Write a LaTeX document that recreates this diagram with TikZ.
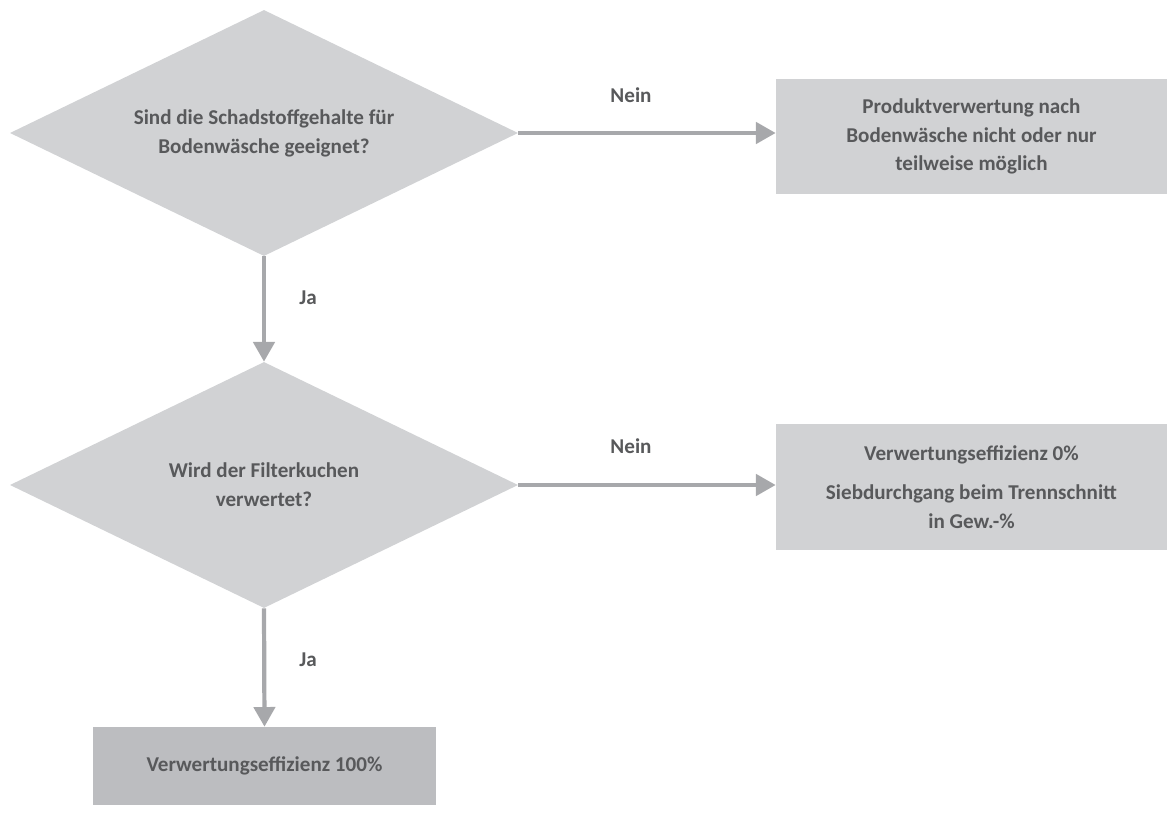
\documentclass[tikz,border=0pt]{standalone}
\usepackage{fontspec}
\setmainfont{Carlito}
\usetikzlibrary{arrows.meta,shapes.geometric}
\definecolor{shapegray}{HTML}{D1D2D4}
\definecolor{endgray}{HTML}{BCBDC0}
\definecolor{arrowgray}{HTML}{A7A8AB}
\definecolor{textgray}{HTML}{58595B}
\tikzset{
	txt/.style={font=\fontsize{15}{20.5}\selectfont\bfseries, text=textgray, align=center},
	question/.style={txt, diamond, shape aspect=2, fill=shapegray, inner sep=0pt, minimum width=12.7cm, minimum height=6.15cm},
	result/.style={txt, rectangle, fill=shapegray, inner sep=0pt, minimum width=9.775cm},
	flow/.style={line width=3pt, color=arrowgray, -{Triangle[width=15pt,length=14pt]}}
}

\begin{document}
\begin{tikzpicture}[x=0.025cm, y=-0.025cm]
		%%%%% START %%%%%
		
		\useasboundingbox (0, 0) rectangle (1167, 814);
		
		\node[question] (q1) at (264, 133) {Sind die Schadstoffgehalte für\\Bodenwäsche geeignet?};
		\node[result, minimum height=2.875cm] (r1) at (971.5, 136.5) {Produktverwertung nach\\Bodenwäsche nicht oder nur\\teilweise möglich};
		
		\node[question] (q2) at (264, 485) {Wird der Filterkuchen\\verwertet?};
		\node[result, minimum height=3.15cm] (r2) at (971.5, 487) {Verwertungseffizienz 0\%\\[7pt]Siebdurchgang beim Trennschnitt\\in Gew.-\%};
		
		\node[result, fill=endgray, minimum width=8.575cm, minimum height=1.95cm] (r3) at (264.5, 766) {Verwertungseffizienz 100\%};
		
		\draw[flow] (q1.east) -- (q1.east -| r1.west);
		\draw[flow] (q1.south) -- (q2.north);
		\draw[flow] (q2.east) -- (q2.east -| r2.west);
		\draw[flow] (q2.south) -- (r3.north);
		
		\node[txt] (nein1) at (631, 95) {Nein};
		\node[txt] (ja1) at (308, 298) {Ja};
		\node[txt] (nein2) at (631, 446) {Nein};
		\node[txt] (ja2) at (308, 660) {Ja};
		
		%%%%% END %%%%%
	\end{tikzpicture}
\end{document}
